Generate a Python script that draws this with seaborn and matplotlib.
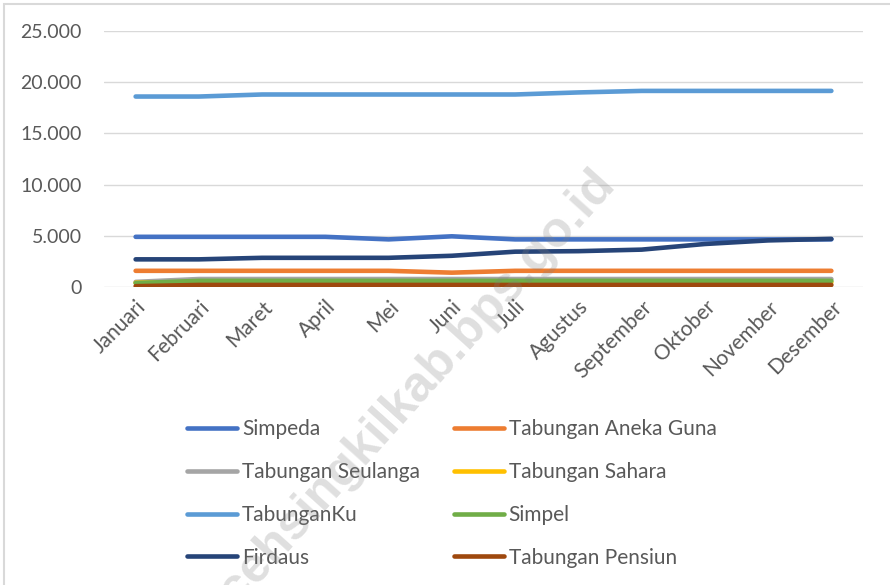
import pandas as pd
import matplotlib
matplotlib.use("Agg")
import matplotlib.pyplot as plt
import seaborn as sns
from matplotlib.lines import Line2D
from matplotlib.patches import Rectangle
from matplotlib.ticker import FuncFormatter, MultipleLocator

# Data
months = ["Januari", "Februari", "Maret", "April", "Mei", "Juni", "Juli",
          "Agustus", "September", "Oktober", "November", "Desember"]
simpeda = [4900, 4900, 4900, 4900, 4650, 4950, 4650, 4650, 4650, 4650, 4650, 4650]
aneka_guna = [1580, 1580, 1580, 1580, 1580, 1400, 1580, 1580, 1580, 1580, 1580, 1580]
seulanga = [500, 780, 780, 780, 780, 780, 780, 780, 780, 780, 780, 780]
sahara = [420, 450, 450, 450, 450, 450, 450, 450, 450, 450, 450, 450]
tabunganku = [18600, 18600, 18800, 18800, 18800, 18800, 18800, 19000, 19150, 19150, 19150, 19150]
simpel = [380, 600, 600, 600, 600, 600, 600, 600, 600, 600, 600, 600]
firdaus = [2700, 2700, 2850, 2850, 2850, 3050, 3450, 3500, 3650, 4200, 4550, 4700]
pensiun = [80, 200, 200, 200, 200, 200, 200, 200, 200, 200, 200, 200]

series = {
    "Simpeda": simpeda,
    "Tabungan Aneka Guna": aneka_guna,
    "Tabungan Seulanga": seulanga,
    "Tabungan Sahara": sahara,
    "TabunganKu": tabunganku,
    "Simpel": simpel,
    "Firdaus": firdaus,
    "Tabungan Pensiun": pensiun,
}
colors = {
    "Simpeda": "#4472C4",
    "Tabungan Aneka Guna": "#ED7D31",
    "Tabungan Seulanga": "#A5A5A5",
    "Tabungan Sahara": "#FFC000",
    "TabunganKu": "#5B9BD5",
    "Simpel": "#70AD47",
    "Firdaus": "#264478",
    "Tabungan Pensiun": "#9E480E",
}

rows = []
for name, vals in series.items():
    for m, v in zip(months, vals):
        rows.append({"Bulan": m, "Nilai": v, "Jenis": name})
df = pd.DataFrame(rows)

sns.set_theme(style="white")
plt.rcParams["font.family"] = ["Lato", "DejaVu Sans"]

fig = plt.figure(figsize=(8.9, 5.85), dpi=100)
ax = fig.add_axes([104 / 890, 1 - 287 / 585, (863 - 104) / 890, (287 - 31) / 585])

sns.lineplot(data=df, x="Bulan", y="Nilai", hue="Jenis", palette=colors,
             hue_order=list(series.keys()), sort=False, linewidth=3.3,
             legend=False, ax=ax)
for ln in ax.get_lines():
    ln.set_solid_capstyle("round")
    ln.set_solid_joinstyle("round")

ax.set_xlim(-0.5, len(months) - 0.5)
ax.set_ylim(0, 25000)
ax.yaxis.set_major_locator(MultipleLocator(5000))
ax.yaxis.set_major_formatter(FuncFormatter(lambda v, p: f"{int(v):,}".replace(",", ".")))
ax.grid(axis="y", color="#d9d9d9", linewidth=1)
ax.set_axisbelow(True)
for s in ax.spines.values():
    s.set_visible(False)
ax.set_xlabel("")
ax.set_ylabel("")
ax.tick_params(axis="both", length=0, colors="#595959")
ax.tick_params(axis="y", pad=16, labelsize=14)
ax.tick_params(axis="x", pad=7, labelsize=15)
plt.setp(ax.get_xticklabels(), rotation=45, ha="right", rotation_mode="anchor")

# legend in two columns
order = ["Simpeda", "Tabungan Seulanga", "TabunganKu", "Firdaus",
         "Tabungan Aneka Guna", "Tabungan Sahara", "Simpel", "Tabungan Pensiun"]
handles = [Line2D([0], [0], color=colors[n], lw=3.3, solid_capstyle="round") for n in order]
leg = fig.legend(handles, order, ncol=2, frameon=False, loc="upper left",
                 bbox_to_anchor=(187 / 890, 1 - 419 / 585), fontsize=15,
                 handlelength=2.4, handletextpad=0.25, columnspacing=1.6,
                 labelspacing=1.1, borderpad=0, borderaxespad=0)
for t in leg.get_texts():
    t.set_color("#595959")

# chart border
fig.patches.append(Rectangle((4 / 890, -0.01), 1.0, 1 - 4 / 585 + 0.01,
                             transform=fig.transFigure, fill=False,
                             edgecolor="#d9d9d9", linewidth=1.5))

# watermark
fig.text(408 / 890, 1 - 398 / 585, "acehsingkilkab.bps.go.id", rotation=48,
         ha="center", va="center", fontsize=36, fontweight="bold",
         family="Liberation Sans", color="#808080", alpha=0.25, zorder=10)

fig.savefig("out.png", dpi=100)
